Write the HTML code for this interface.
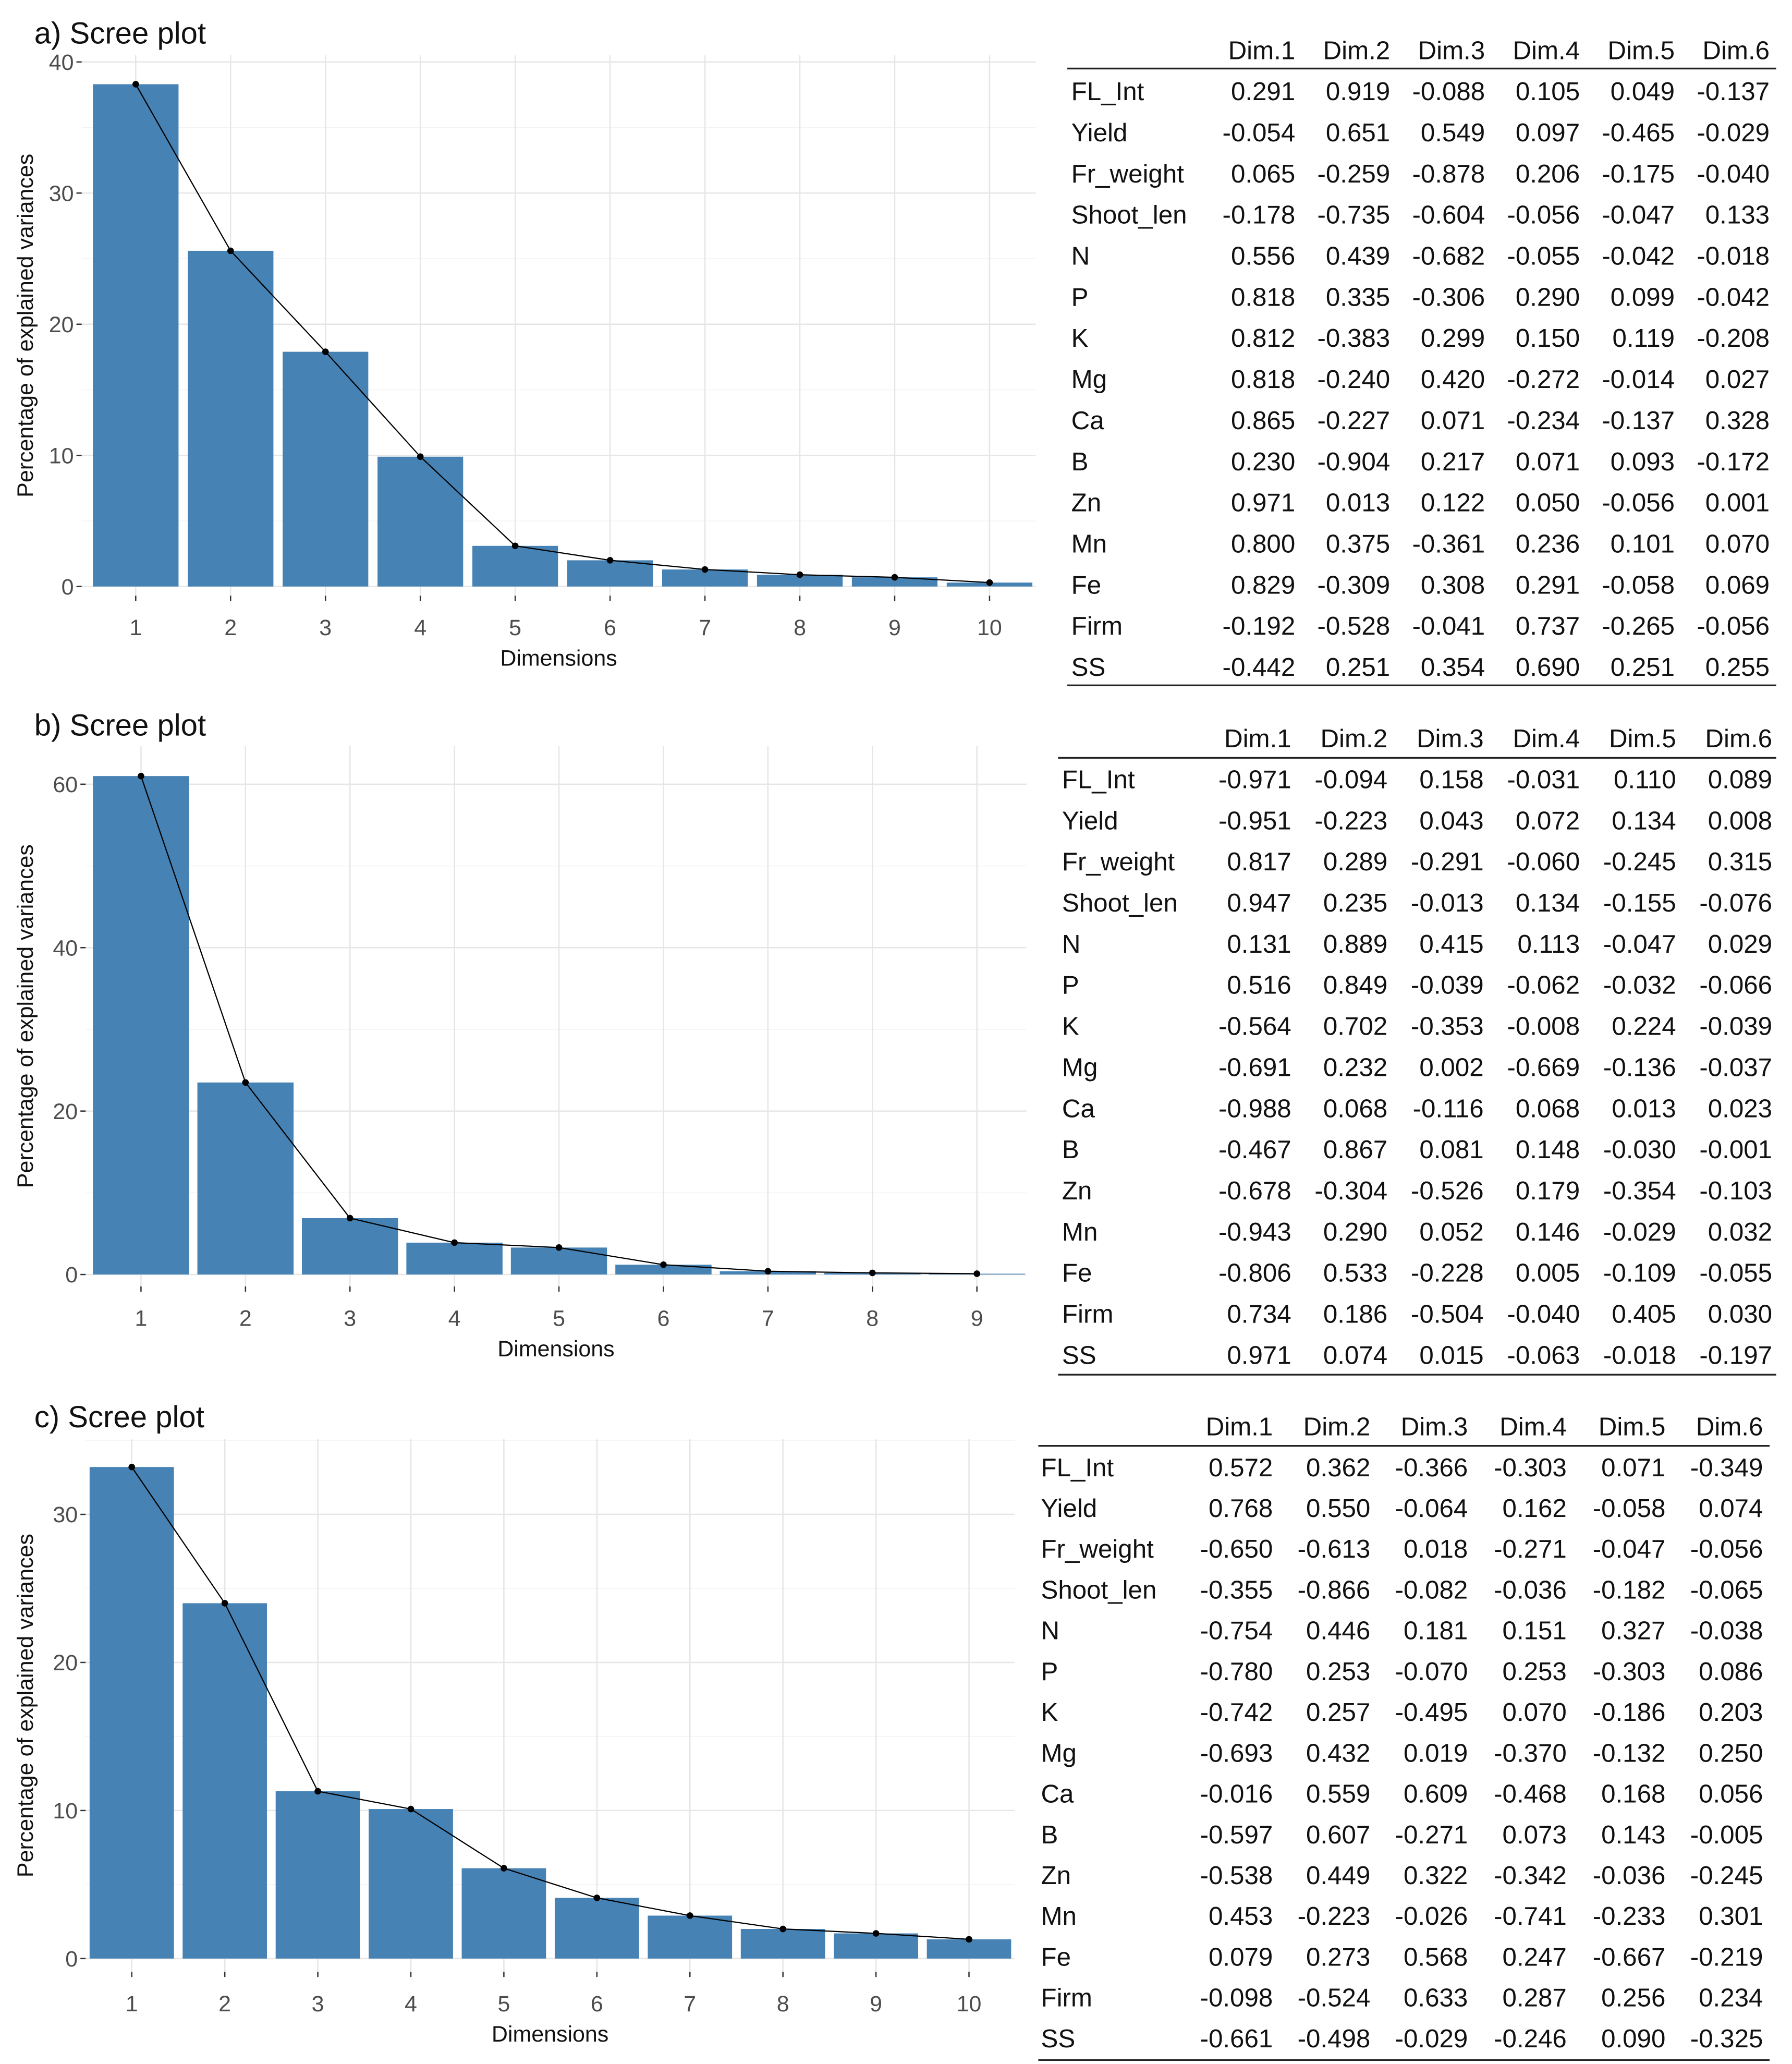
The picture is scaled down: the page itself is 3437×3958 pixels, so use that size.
<!DOCTYPE html>
<html><head><meta charset="utf-8"><style>
html,body{margin:0;padding:0;background:#fff;}
svg{display:block;}
text{font-family:"Liberation Sans",sans-serif;}
</style></head><body>
<svg id="root" width="3437" height="3958" viewBox="0 0 1360 1566" preserveAspectRatio="none" xmlns="http://www.w3.org/2000/svg"></svg>
<script>
const dimsA=[1,2,3,4,5,6,7,8,9,10];
const valsA=[38.3,25.6,17.9,9.9,3.1,2.0,1.3,0.9,0.7,0.3];
const ticksA=[0,10,20,30,40];
const dimsB=[1,2,3,4,5,6,7,8,9];
const valsB=[61.0,23.5,6.9,3.9,3.3,1.2,0.4,0.2,0.1];
const ticksB=[0,20,40,60];
const dimsC=[1,2,3,4,5,6,7,8,9,10];
const valsC=[33.2,24.0,11.3,10.1,6.1,4.1,2.9,2.0,1.7,1.3];
const ticksC=[0,10,20,30];
const rowNames=["FL_Int","Yield","Fr_weight","Shoot_len","N","P","K","Mg","Ca","B","Zn","Mn","Fe","Firm","SS"];
const colNames=["Dim.1","Dim.2","Dim.3","Dim.4","Dim.5","Dim.6"];
const tabA=[["0.291","0.919","-0.088","0.105","0.049","-0.137"],["-0.054","0.651","0.549","0.097","-0.465","-0.029"],["0.065","-0.259","-0.878","0.206","-0.175","-0.040"],["-0.178","-0.735","-0.604","-0.056","-0.047","0.133"],["0.556","0.439","-0.682","-0.055","-0.042","-0.018"],["0.818","0.335","-0.306","0.290","0.099","-0.042"],["0.812","-0.383","0.299","0.150","0.119","-0.208"],["0.818","-0.240","0.420","-0.272","-0.014","0.027"],["0.865","-0.227","0.071","-0.234","-0.137","0.328"],["0.230","-0.904","0.217","0.071","0.093","-0.172"],["0.971","0.013","0.122","0.050","-0.056","0.001"],["0.800","0.375","-0.361","0.236","0.101","0.070"],["0.829","-0.309","0.308","0.291","-0.058","0.069"],["-0.192","-0.528","-0.041","0.737","-0.265","-0.056"],["-0.442","0.251","0.354","0.690","0.251","0.255"]];
const tabB=[["-0.971","-0.094","0.158","-0.031","0.110","0.089"],["-0.951","-0.223","0.043","0.072","0.134","0.008"],["0.817","0.289","-0.291","-0.060","-0.245","0.315"],["0.947","0.235","-0.013","0.134","-0.155","-0.076"],["0.131","0.889","0.415","0.113","-0.047","0.029"],["0.516","0.849","-0.039","-0.062","-0.032","-0.066"],["-0.564","0.702","-0.353","-0.008","0.224","-0.039"],["-0.691","0.232","0.002","-0.669","-0.136","-0.037"],["-0.988","0.068","-0.116","0.068","0.013","0.023"],["-0.467","0.867","0.081","0.148","-0.030","-0.001"],["-0.678","-0.304","-0.526","0.179","-0.354","-0.103"],["-0.943","0.290","0.052","0.146","-0.029","0.032"],["-0.806","0.533","-0.228","0.005","-0.109","-0.055"],["0.734","0.186","-0.504","-0.040","0.405","0.030"],["0.971","0.074","0.015","-0.063","-0.018","-0.197"]];
const tabC=[["0.572","0.362","-0.366","-0.303","0.071","-0.349"],["0.768","0.550","-0.064","0.162","-0.058","0.074"],["-0.650","-0.613","0.018","-0.271","-0.047","-0.056"],["-0.355","-0.866","-0.082","-0.036","-0.182","-0.065"],["-0.754","0.446","0.181","0.151","0.327","-0.038"],["-0.780","0.253","-0.070","0.253","-0.303","0.086"],["-0.742","0.257","-0.495","0.070","-0.186","0.203"],["-0.693","0.432","0.019","-0.370","-0.132","0.250"],["-0.016","0.559","0.609","-0.468","0.168","0.056"],["-0.597","0.607","-0.271","0.073","0.143","-0.005"],["-0.538","0.449","0.322","-0.342","-0.036","-0.245"],["0.453","-0.223","-0.026","-0.741","-0.233","0.301"],["0.079","0.273","0.568","0.247","-0.667","-0.219"],["-0.098","-0.524","0.633","0.287","0.256","0.234"],["-0.661","-0.498","-0.029","-0.246","0.090","-0.325"]];

const NS="http://www.w3.org/2000/svg";
const root=document.getElementById('root');
function mk(tag,attrs,parent){const e=document.createElementNS(NS,tag);for(const k in attrs)e.setAttribute(k,attrs[k]);(parent||root).appendChild(e);return e;}

function scree(cfg,dims,vals,ticks){
  const g=mk('g',{});
  
  
  const y=v=>cfg.y0-(v-0)*(cfg.y0-cfg.yTop)/(cfg.vTop);
  const x=d=>cfg.x1+(d-1)*cfg.step;
  const t=mk('text',{x:cfg.titleX,y:cfg.titleY,'font-size':23,fill:'#111'},g);
  t.textContent=cfg.id+') Scree plot';
  
  
  for(let i=0;i<ticks.length;i++){
    const mv=ticks[i]+ (ticks[1]-ticks[0])/2;
    const my=y(mv);
    if(my>cfg.pTop) mk('line',{x1:cfg.pL,x2:cfg.pR,y1:my,y2:my,stroke:'#f3f3f3','stroke-width':0.6},g);
  }
  ticks.forEach(v=>{mk('line',{x1:cfg.pL,x2:cfg.pR,y1:y(v),y2:y(v),stroke:'#e6e6e6','stroke-width':1},g);});
  dims.forEach(d=>{mk('line',{x1:x(d),x2:x(d),y1:cfg.pTop,y2:cfg.pB,stroke:'#e6e6e6','stroke-width':1},g);});
  dims.forEach((d,i)=>{
    const r=mk('rect',{x:x(d)-cfg.bw/2,y:y(vals[i]),width:cfg.bw,height:y(0)-y(vals[i]),fill:'#4682b4'},g);
    
    
  });
  const pts=dims.map((d,i)=>x(d)+','+y(vals[i])).join(' ');
  const pl=mk('polyline',{points:pts,fill:'none',stroke:'#000','stroke-width':0.9},g);
  
  
  dims.forEach((d,i)=>{
    const c=mk('circle',{cx:x(d),cy:y(vals[i]),r:2.5,fill:'#000'},g);
    
    
  });
  ticks.forEach(v=>{
    mk('line',{x1:cfg.pL-4,x2:cfg.pL,y1:y(v),y2:y(v),stroke:'#333','stroke-width':1},g);
    const tt=mk('text',{x:cfg.pL-6,y:y(v)+6,'font-size':17,fill:'#4d4d4d','text-anchor':'end'},g);
    tt.textContent=v;
    
    
  });
  dims.forEach(d=>{
    mk('line',{x1:x(d),x2:x(d),y1:cfg.pB,y2:cfg.pB+4,stroke:'#333','stroke-width':1},g);
    const tt=mk('text',{x:x(d),y:cfg.pB+30,'font-size':17,fill:'#4d4d4d','text-anchor':'middle'},g);
    tt.textContent=d;
    
    
  });
  const xt=mk('text',{x:(cfg.pL+cfg.pR)/2,y:cfg.pB+53,'font-size':17,fill:'#111','text-anchor':'middle'},g);
  xt.textContent='Dimensions';
  
  
  const cy=(cfg.pTop+cfg.pB)/2;
  const yt=mk('text',{x:0,y:0,'font-size':17,fill:'#111','text-anchor':'middle',transform:`translate(${cfg.ytX},${cy}) rotate(-90)`},g);
  yt.textContent='Percentage of explained variances';
  
  
}

function table(cfg,data,id){
  const g=mk('g',{});
  
  
  mk('line',{x1:cfg.l,x2:cfg.r,y1:cfg.top,y2:cfg.top,stroke:'#222','stroke-width':1.3},g);
  mk('line',{x1:cfg.l,x2:cfg.r,y1:cfg.bot,y2:cfg.bot,stroke:'#222','stroke-width':1.3},g);
  colNames.forEach((c,j)=>{
    const t=mk('text',{x:cfg.cols[j],y:cfg.hy,'font-size':19.5,fill:'#111','text-anchor':'end'},g);
    t.textContent=c;
    
    
  });
  rowNames.forEach((rn,i)=>{
    const yy=cfg.r0+i*cfg.rs;
    const t=mk('text',{x:cfg.lx,y:yy,'font-size':19.5,fill:'#111'},g);
    t.textContent=rn;
    
    
    data[i].forEach((v,j)=>{
      const c=mk('text',{x:cfg.cols[j],y:yy,'font-size':19.5,fill:'#111','text-anchor':'end'},g);
      c.textContent=v;
      
      
    });
  });
}

scree({id:'a',titleX:26,titleY:33,x1:103,step:72,bw:65,y0:445,yTop:47,vTop:40,pL:62,pR:786,pTop:42,pB:452,ytX:25},dimsA,valsA,ticksA);
scree({id:'b',titleX:26,titleY:558,x1:107,step:79.3,bw:73,y0:967,yTop:595,vTop:60,pL:65,pR:779,pTop:566,pB:976,ytX:25},dimsB,valsB,ticksB);
scree({id:'c',titleX:26,titleY:1083,x1:100,step:70.6,bw:64,y0:1486,yTop:1149,vTop:30,pL:65,pR:770,pTop:1092,pB:1496,ytX:25},dimsC,valsC,ticksC);

table({l:810,r:1348,top:52,bot:520,hy:45,r0:76,rs:31.2,lx:813,cols:[983,1055,1127,1199,1271,1343]},tabA,'a');
table({l:803,r:1348,top:575,bot:1043,hy:567,r0:598,rs:31.2,lx:806,cols:[980,1053,1126,1199,1272,1345]},tabB,'b');
table({l:788,r:1343,top:1097,bot:1563,hy:1089,r0:1120,rs:30.95,lx:790,cols:[966,1040,1114,1189,1264,1338]},tabC,'c');
</script>
</body></html>
